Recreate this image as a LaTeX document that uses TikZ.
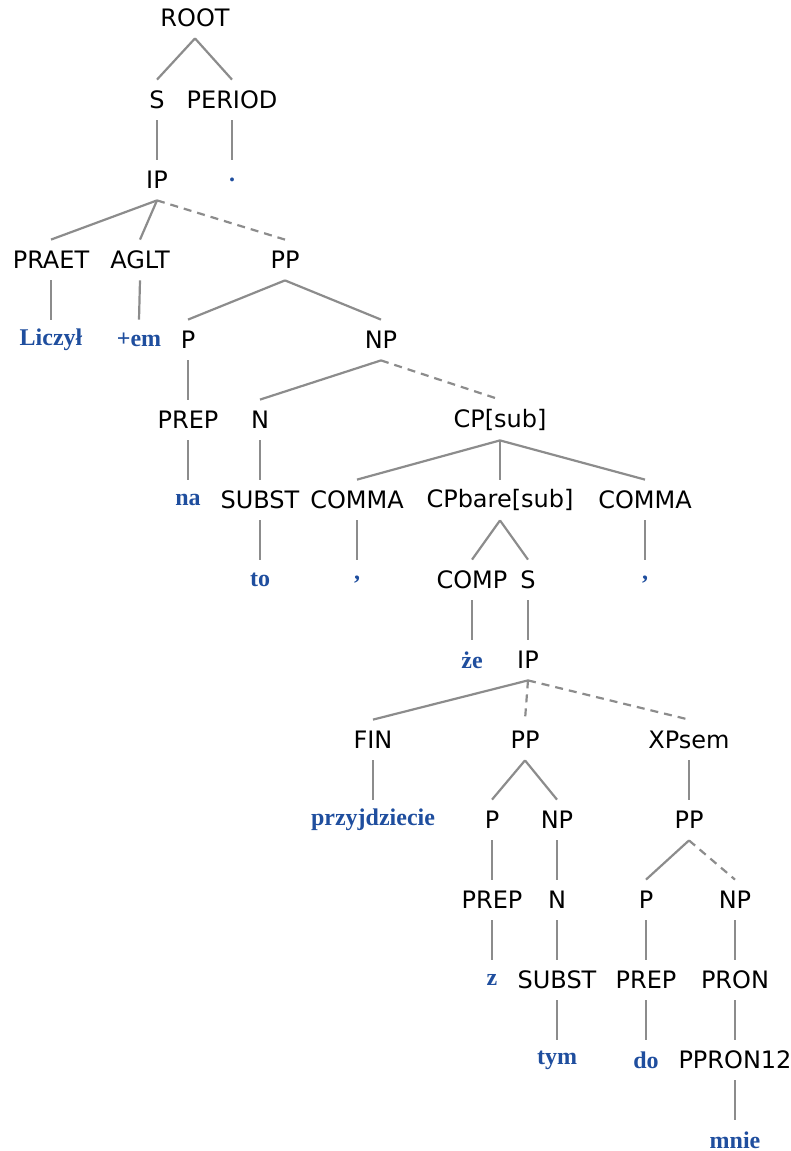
\documentclass[tikz,border=0pt]{standalone}
\usepackage{fontspec}
\usepackage{xcolor}
\usepackage{tikz}
\setmainfont{DejaVu Sans}
\newfontfamily\wordfont{Liberation Serif}
\definecolor{treeBlue}{HTML}{1F4E9E}
\definecolor{treeGray}{HTML}{8C8C8C}

\begin{document}
\begin{tikzpicture}[x=0.5pt,y=-0.5pt]
  \tikzset{
    cat/.style={font=\fontsize{12}{14}\selectfont,minimum height=20pt,inner sep=0pt},
    word/.style={font=\wordfont\bfseries\fontsize{12}{14}\selectfont,text=treeBlue,minimum height=20pt,inner sep=0pt},
    edge/.style={draw=treeGray,line width=1.1pt},
    part/.style={edge,dashed,dash pattern=on 4pt off 3pt}
  }
  \useasboundingbox (0,0) rectangle (791,1151);
  % categories and words, row by row
  \node[cat] (root) at (195,18) {ROOT};
  \node[cat] (s1) at (157,100) {S};
  \node[cat] (period) at (232,100) {PERIOD};
  \node[cat] (ip1) at (157,180) {IP};
  \node[word] (dot) at (232,180) {.};
  \node[cat] (praet) at (51,260) {PRAET};
  \node[cat] (aglt) at (140,260) {AGLT};
  \node[cat] (pp1) at (285,260) {PP};
  \node[word] (liczyl) at (51,340) {Liczył};
  \node[word] (em) at (139,340) {+em};
  \node[cat] (p1) at (188,340) {P};
  \node[cat] (np1) at (381,340) {NP};
  \node[cat] (prep1) at (188,420) {PREP};
  \node[cat] (n1) at (260,420) {N};
  \node[cat] (cpsub) at (500,420) {CP[sub]};
  \node[word] (na) at (188,500) {na};
  \node[cat] (subst1) at (260,500) {SUBST};
  \node[cat] (commaA) at (357,500) {COMMA};
  \node[cat] (cpbare) at (500,500) {CPbare[sub]};
  \node[cat] (commaB) at (645,500) {COMMA};
  \node[word] (to) at (260,580) {to};
  \node[word] (commaAw) at (357,580) {,};
  \node[cat] (comp) at (472,580) {COMP};
  \node[cat] (s2) at (528,580) {S};
  \node[word] (commaBw) at (645,580) {,};
  \node[word] (ze) at (472,660) {że};
  \node[cat] (ip2) at (528,660) {IP};
  \node[cat] (fin) at (373,740) {FIN};
  \node[cat] (pp2) at (525,740) {PP};
  \node[cat] (xpsem) at (689,740) {XPsem};
  \node[word] (przyjdziecie) at (373,820) {przyjdziecie};
  \node[cat] (p2) at (492,820) {P};
  \node[cat] (np2) at (557,820) {NP};
  \node[cat] (pp3) at (689,820) {PP};
  \node[cat] (prep2) at (492,900) {PREP};
  \node[cat] (n2) at (557,900) {N};
  \node[cat] (p3) at (646,900) {P};
  \node[cat] (np3) at (735,900) {NP};
  \node[word] (z) at (492,980) {z};
  \node[cat] (subst2) at (557,980) {SUBST};
  \node[cat] (prep3) at (646,980) {PREP};
  \node[cat] (pron) at (735,980) {PRON};
  \node[word] (tym) at (557,1060) {tym};
  \node[word] (do) at (646,1060) {do};
  \node[cat] (ppron) at (735,1060) {PPRON12};
  \node[word] (mnie) at (735,1140) {mnie};
  % branches
  \draw[edge] (root.south) -- (s1.north);
  \draw[edge] (root.south) -- (period.north);
  \draw[edge] (s1.south) -- (ip1.north);
  \draw[edge] (period.south) -- (dot.north);
  \draw[edge] (ip1.south) -- (praet.north);
  \draw[edge] (ip1.south) -- (aglt.north);
  \draw[part] (ip1.south) -- (pp1.north);
  \draw[edge] (praet.south) -- (liczyl.north);
  \draw[edge] (aglt.south) -- (em.north);
  \draw[edge] (pp1.south) -- (p1.north);
  \draw[edge] (pp1.south) -- (np1.north);
  \draw[edge] (p1.south) -- (prep1.north);
  \draw[edge] (np1.south) -- (n1.north);
  \draw[part] (np1.south) -- (cpsub.north);
  \draw[edge] (prep1.south) -- (na.north);
  \draw[edge] (n1.south) -- (subst1.north);
  \draw[edge] (cpsub.south) -- (commaA.north);
  \draw[edge] (cpsub.south) -- (cpbare.north);
  \draw[edge] (cpsub.south) -- (commaB.north);
  \draw[edge] (subst1.south) -- (to.north);
  \draw[edge] (commaA.south) -- (commaAw.north);
  \draw[edge] (cpbare.south) -- (comp.north);
  \draw[edge] (cpbare.south) -- (s2.north);
  \draw[edge] (commaB.south) -- (commaBw.north);
  \draw[edge] (comp.south) -- (ze.north);
  \draw[edge] (s2.south) -- (ip2.north);
  \draw[edge] (ip2.south) -- (fin.north);
  \draw[part] (ip2.south) -- (pp2.north);
  \draw[part] (ip2.south) -- (xpsem.north);
  \draw[edge] (fin.south) -- (przyjdziecie.north);
  \draw[edge] (pp2.south) -- (p2.north);
  \draw[edge] (pp2.south) -- (np2.north);
  \draw[edge] (xpsem.south) -- (pp3.north);
  \draw[edge] (p2.south) -- (prep2.north);
  \draw[edge] (np2.south) -- (n2.north);
  \draw[edge] (pp3.south) -- (p3.north);
  \draw[part] (pp3.south) -- (np3.north);
  \draw[edge] (prep2.south) -- (z.north);
  \draw[edge] (n2.south) -- (subst2.north);
  \draw[edge] (p3.south) -- (prep3.north);
  \draw[edge] (np3.south) -- (pron.north);
  \draw[edge] (subst2.south) -- (tym.north);
  \draw[edge] (prep3.south) -- (do.north);
  \draw[edge] (pron.south) -- (ppron.north);
  \draw[edge] (ppron.south) -- (mnie.north);
\end{tikzpicture}
\end{document}
